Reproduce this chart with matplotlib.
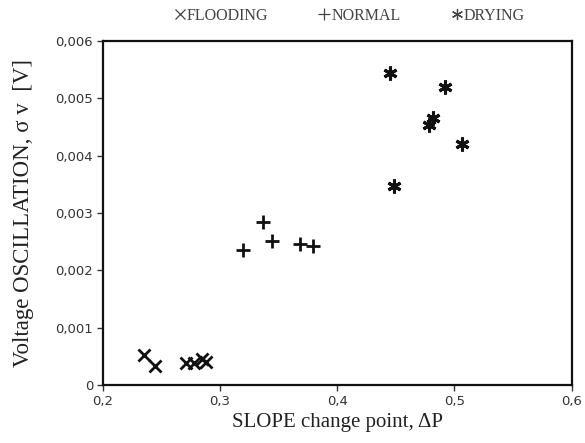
import numpy as np
import matplotlib.pyplot as plt
from matplotlib.ticker import FuncFormatter
from matplotlib.lines import Line2D

# dados
flood_x = [0.235, 0.245, 0.271, 0.278, 0.285, 0.288]
flood_y = [0.000524, 0.000337, 0.000389, 0.000379, 0.000449, 0.000407]

normal_x = [0.3195, 0.3367, 0.3447, 0.3682, 0.3797]
normal_y = [0.002356, 0.00284, 0.00251, 0.00246, 0.002432]

dry_x = [0.4455, 0.4485, 0.4923, 0.4814, 0.478, 0.5066]
dry_y = [0.00545, 0.003473, 0.0052, 0.004654, 0.004537, 0.0042]

fig = plt.figure(figsize=(5.85, 4.43), dpi=100)
ax = fig.add_axes([0.1756, 0.131, 0.8014, 0.7765])

ax.plot(flood_x, flood_y, linestyle='none', marker='x', markersize=9,
        markeredgewidth=2, color='#111111')
ax.plot(normal_x, normal_y, linestyle='none', marker='+', markersize=10,
        markeredgewidth=2, color='#111111')
ax.plot(dry_x, dry_y, linestyle='none', marker=(6, 2, 0), markersize=10,
        markeredgewidth=2.2, color='#111111')

ax.set_xlim(0.2, 0.6)
ax.set_ylim(0, 0.006)
ax.set_xticks([0.2, 0.3, 0.4, 0.5, 0.6])
ax.set_yticks([0, 0.001, 0.002, 0.003, 0.004, 0.005, 0.006])


def fmt_x(v, pos):
    return ('%.1f' % v).replace('.', ',')


def fmt_y(v, pos):
    if abs(v) < 1e-12:
        return '0'
    return ('%.3f' % v).replace('.', ',')


ax.xaxis.set_major_formatter(FuncFormatter(fmt_x))
ax.yaxis.set_major_formatter(FuncFormatter(fmt_y))
ax.tick_params(direction='out', length=4, width=1, labelsize=9.5,
               labelcolor='#333333', color='#333333', pad=3)

for s in ax.spines.values():
    s.set_linewidth(1.6)
    s.set_color('#111111')

ax.set_xlabel('SLOPE change point, \u0394P', fontfamily='Liberation Serif',
              fontsize=15, color='#222222', labelpad=4)
ax.set_ylabel('Voltage OSCILLATION, \u03c3 v  [V]', fontfamily='Liberation Serif',
              fontsize=16.5, color='#222222', labelpad=15)

# legenda com marcadores finos, como no original
handles = [
    Line2D([], [], linestyle='none', marker='x', markersize=7, markeredgewidth=0.9, color='#444444'),
    Line2D([], [], linestyle='none', marker='+', markersize=8, markeredgewidth=0.9, color='#444444'),
    Line2D([], [], linestyle='none', marker=(6, 2, 0), markersize=8, markeredgewidth=0.9, color='#444444'),
]
labels = ['FLOODING', 'NORMAL', 'DRYING']
fig.legend(handles, labels, loc='center', bbox_to_anchor=(0.598, 0.965), ncol=3,
           frameon=False, handlelength=0.6, handletextpad=0.15, columnspacing=3.2,
           labelcolor='#444444', prop={'family': 'Liberation Serif', 'size': 11.5})

fig.savefig('out.png', dpi=100)
